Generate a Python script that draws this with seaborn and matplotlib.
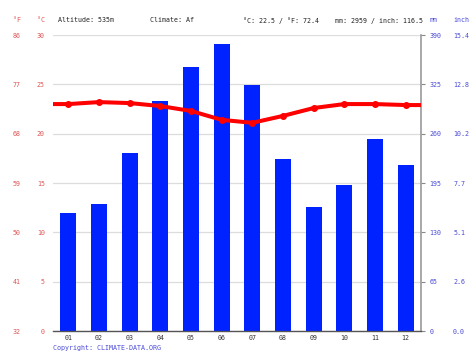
import matplotlib
matplotlib.use("Agg")
import matplotlib.pyplot as plt
import seaborn as sns
import pandas as pd
import numpy as np

months = ["01", "02", "03", "04", "05", "06", "07", "08", "09", "10", "11", "12"]
precip_mm = [156, 167, 235, 303, 348, 378, 324, 226, 164, 193, 253, 219]
temp_c = [23.0, 23.2, 23.1, 22.8, 22.3, 21.4, 21.1, 21.8, 22.6, 23.0, 23.0, 22.9]
c_ticks = [0, 5, 10, 15, 20, 25, 30]
c_labels = ["0", "5", "10", "15", "20", "25", "30"]
f_labels = ["32", "41", "50", "59", "68", "77", "86"]
mm_ticks = [0, 65, 130, 195, 260, 325, 390]
mm_labels = ["0", "65", "130", "195", "260", "325", "390"]
inch_labels = ["0.0", "2.6", "5.1", "7.7", "10.2", "12.8", "15.4"]

RED_TXT = "#e05555"
BLUE_TXT = "#4a4ad8"
BAR = "#0022ff"
LINE = "#ff0000"
FS = 4.8

sns.set_style("white")
plt.rcParams['font.family'] = ['DejaVu Sans Mono', 'DejaVu Sans']

fig = plt.figure(figsize=(4.74, 3.55), dpi=100, facecolor="white")
W, H = 474, 355
ax = fig.add_axes([53 / W, 1 - 331 / H, 368 / W, 296 / H])
ax2 = ax.twinx()

df = pd.DataFrame({"month": months, "precip": precip_mm, "temp": temp_c,
                   "pos": np.arange(len(months))})

# precipitation bars (right axis)
sns.barplot(data=df, x="month", y="precip", ax=ax2, color=BAR, saturation=1,
            width=0.52, linewidth=0)
ax2.set_ylim(0, 390)
ax2.set_yticks(mm_ticks, labels=mm_labels)
ax2.set_ylabel("")
ax2.yaxis.grid(True, color="#dcdcdc", lw=0.9)
ax2.set_axisbelow(True)
ax2.tick_params(axis="y", length=3, width=0.8, color="#888888", pad=3,
                labelsize=FS, labelcolor=BLUE_TXT)
for s in ["left", "top", "bottom"]:
    ax2.spines[s].set_visible(False)
ax2.spines["right"].set_color("#999999")
ax2.spines["right"].set_linewidth(1.2)

# temperature line (left axis)
ext_pos = [-0.5] + list(df["pos"]) + [len(months) - 0.5]
ext_temp = [temp_c[0]] + temp_c + [temp_c[-1]]
ext = pd.DataFrame({"pos": ext_pos, "temp": ext_temp})
sns.lineplot(data=ext, x="pos", y="temp", ax=ax, color=LINE, lw=2.9, sort=False)
ax.plot(df["pos"], df["temp"], "o", color=LINE, ms=4, zorder=3)
ax.set_ylim(0, 30)
ax.set_xlim(-0.5, len(months) - 0.5)
ax.set_yticks(c_ticks, labels=c_labels)
ax.set_xlabel("")
ax.set_ylabel("")
ax.tick_params(axis="y", length=0, pad=5.8, labelsize=FS, labelcolor=RED_TXT)
ax.set_xticks(range(len(months)), labels=months)
ax.set_xticks(np.arange(-0.5, len(months), 1), minor=True)
ax.tick_params(axis="x", which="major", length=0, pad=3, labelsize=FS, labelcolor="#333333")
ax.tick_params(axis="x", which="minor", length=3, width=0.8, color="#444444", direction="out")
for s in ["left", "top", "right"]:
    ax.spines[s].set_visible(False)
ax.spines["bottom"].set_color("#555555")
ax.spines["bottom"].set_linewidth(1.0)
ax.set_zorder(ax2.get_zorder() + 1)
ax.patch.set_visible(False)

# Fahrenheit labels
secF = ax.secondary_yaxis((23 - 53) / 368)
secF.set_yticks(c_ticks, labels=f_labels)
secF.tick_params(length=0, pad=1.5, labelsize=FS, labelcolor=RED_TXT)
for s in secF.spines.values():
    s.set_visible(False)

# inch labels
secI = ax2.secondary_yaxis((451 - 53) / 368)
secI.set_yticks(mm_ticks, labels=inch_labels)
secI.tick_params(length=0, pad=1.5, labelsize=FS, labelcolor=BLUE_TXT)
for s in secI.spines.values():
    s.set_visible(False)

# header texts
hy = 1 - 20.5 / H
fig.text(13 / W, hy, "°F", color=RED_TXT, fontsize=FS, va="center")
fig.text(37 / W, hy, "°C", color=RED_TXT, fontsize=FS, va="center")
fig.text(58 / W, hy, "Altitude: 535m", color="#222222", fontsize=FS, va="center")
fig.text(150 / W, hy, "Climate: Af", color="#222222", fontsize=FS, va="center")
fig.text(243 / W, hy, "°C: 22.5 / °F: 72.4", color="#222222", fontsize=FS, va="center")
fig.text(335 / W, hy, "mm: 2959 / inch: 116.5", color="#222222", fontsize=FS, va="center")
fig.text(430 / W, hy, "mm", color=BLUE_TXT, fontsize=FS, va="center")
fig.text(453 / W, hy, "inch", color=BLUE_TXT, fontsize=FS, va="center")
fig.text(53 / W, 1 - 348 / H, "Copyright: CLIMATE-DATA.ORG", color=BLUE_TXT,
         fontsize=FS, va="center")

fig.savefig("out.png", dpi=100, facecolor="white")
